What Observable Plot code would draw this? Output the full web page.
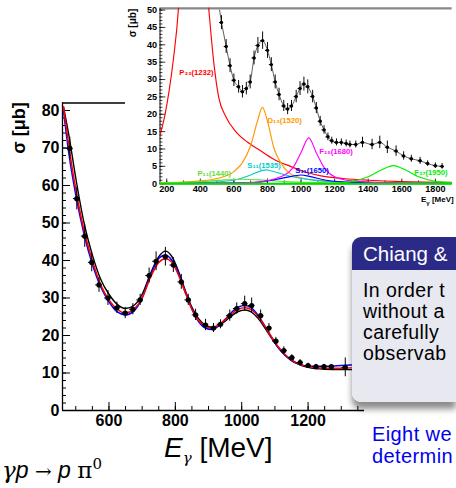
<!DOCTYPE html>
<html><head><meta charset="utf-8">
<script src="https://cdn.jsdelivr.net/npm/d3@7"></script>
<script src="https://cdn.jsdelivr.net/npm/@observablehq/plot@0.6"></script>
<style>
html,body{margin:0;padding:0;background:#fff;}
body{width:456px;height:488px;overflow:hidden;position:relative;font-family:"Liberation Sans",Arial,sans-serif;}
.abs{position:absolute;white-space:nowrap;}
#main,#inset{position:absolute;top:0;}
#main{left:0}
#inset{left:125px}
.rot{position:absolute;white-space:nowrap;transform:translate(-50%,-50%) rotate(-90deg);font-weight:bold;}
#box{position:absolute;left:352px;top:237px;width:104px;border-radius:9px 0 0 9px;overflow:hidden;box-shadow:0 7px 6px rgba(0,0,0,0.45);}
#boxhead{background:#2b2b87;color:#fff;height:33px;font-size:20.5px;line-height:33px;padding-left:11px;white-space:nowrap;}
#boxbody{background:#e8e8f1;color:#000;height:121px;font-size:19.5px;letter-spacing:0.4px;line-height:21px;padding:10px 0 1px 11px;white-space:nowrap;}
#blue{position:absolute;left:372px;top:423px;color:#0000ee;font-size:20px;letter-spacing:0.4px;line-height:22px;white-space:nowrap;}
</style></head><body>
<div id="main"></div>
<div id="box"><div id="boxhead">Chiang &amp;</div><div id="boxbody">In order t<br>without a<br>carefully<br>observab</div></div>
<div id="blue">Eight we<br>determin</div>
<div class="rot" style="left:19px;top:128px;font-size:18px;">σ [μb]</div>
<div class="abs" style="left:164px;top:432px;font-size:28px;"><i>E</i><i style="font-size:15px;font-family:'DejaVu Serif',serif;position:relative;top:6px;">γ</i> [MeV]</div>
<div class="abs" style="left:2px;top:455px;font-size:23px;"><i style="font-family:'DejaVu Serif',serif;">γ</i><i>p</i> <span style="font-family:'DejaVu Serif',serif;font-size:20px;">→</span> <i>p</i> <span style="font-family:'DejaVu Serif',serif;">π</span><sup style="font-size:15px;font-family:'DejaVu Serif',serif;">0</sup></div>
<div id="inset"></div>
<div class="rot" style="left:132px;top:23px;font-size:10px;">σ [μb]</div>
<div class="abs" style="left:421px;top:195px;font-size:8px;font-weight:bold;">E<sub style="font-size:6px">γ</sub> [MeV]</div>
<script>
// ---------- main chart data ----------
const mainE = [482,503,527,548,570,597,624,649,672,694,721,742,770,794,818,839,861,891,915,936,964,985,1009,1030,1057,1082,1103,1127,1151,1176,1200,1224,1248,1270,1312];
const mainSigma = [69.9,56.5,46.5,39.5,33.5,30,27.4,26,27,29.5,36,39.8,41,38.8,34.3,29.5,25.5,22.8,22,23,25.3,27.2,28.5,28,25.3,22,18.5,16,14.1,12.8,12,11.7,11.7,11.7,11.5];
const mainErr = [3,3,3,2.5,2,2,1.5,1.5,1.5,1.5,2,2.5,2.5,2,2,1.5,1.5,1.5,1.2,1.2,1.5,1.5,2,2,1.5,1.2,1,1,0.8,0.8,0.6,0.6,0.6,0.6,2.5];
const binHalfWidth = 10;
const curveE = [463,480,500,525,550,575,600,625,650,675,700,725,750,770,790,810,830,850,870,890,910,930,950,970,990,1010,1030,1050,1070,1090,1110,1130,1150,1175,1200,1250,1300,1370];
const curveBlack = [81,73,62,50,41.5,35,31,28.3,27.2,28,31,36.5,41,42.5,41,37,32,27.5,24.5,22.8,22.2,22.6,23.8,25.3,26.4,26.8,26.2,24.5,22,19.3,16.8,14.8,13.3,12.2,11.5,11,10.9,10.9];
const curveRed = [81,70,59,48,40,33.5,29.5,27,26,27,30,35.5,39.5,40.5,39.5,36,31.5,27,24,22.5,22,22.8,24.2,25.8,27,27.4,26.8,25,22.4,19.6,17,15,13.5,12.3,11.7,11.3,11.3,11.5];
const curveBlue = [80,68,57.5,47,39,33,29,26.3,25.5,26.5,30,36,40.5,41.5,40,36.5,31.5,27,23.7,22,21.6,22.5,24.3,26.2,27.6,28,27.3,25.3,22.5,19.5,16.8,14.8,13.4,12.3,11.8,11.8,12,12.4];
const mainYMajor = [0,10,20,30,40,50,60,70,80];
const mainXMajor = [600,800,1000,1200];

// ---------- inset data ----------
const insetE = [526,554,577,600,628,651,674,697,720,743,771,800,823,846,869,897,920,943,971,994,1017,1040,1069,1091,1114,1137,1160,1183,1211,1240,1269,1291,1326,1366,1423,1469,1514,1566,1611,1657,1709,1754,1800,1840];
const insetSigma = [46.4,39.5,34,29.8,27.9,26.5,27.4,29.3,36.2,39.8,41.2,38.4,34.3,29.3,25.7,22.4,21.5,22.4,25.1,27.4,28.7,27.9,25.1,21.8,18,15.5,13.5,12.4,11.9,11.9,11.6,11.3,11.3,11.9,11.3,11.9,10.5,9.4,8,7.2,6.6,5.8,5.2,5];
const insetErr = [2,2,2,1.8,1.8,1.8,1.8,2,2,2.3,2.5,2.3,2,2,1.8,1.6,1.6,1.6,1.8,2,2,2,1.8,1.6,1.4,1.2,1.1,1,1,1,1,1,1,1.5,1.5,1.8,1.8,1.5,1.2,1,1,0.8,0.8,0.8];
const insetFitE = [515,526];
const insetFitS = [50,46.4];
const p33E = [160,190,215,240,269,300,340,400,430,451,480,509,550,611,680,743,840,937,1030,1126,1250,1400,1600,1900];
const p33S = [14,20,27,36,50,80,100,80,62,50,35,25,19.5,15,12,10,7,5,3.3,2.2,1.5,1,0.6,0.4];
const d13E = [160,300,400,500,600,650,700,740,770,800,840,880,920,1000,1100,1300,1900];
const d13S = [0.3,0.5,0.8,1.5,3.5,6,11,18,22,18,10,6,3.5,1.7,0.9,0.4,0.2];
const s1535E = [160,400,600,700,790,850,950,1050,1200,1500,1900];
const s1535S = [0,0.3,1,2.5,4,3.3,2,1.2,0.6,0.2,0.1];
const p11E = [160,400,550,650,750,900,1100,1400,1900];
const p11S = [0.1,0.6,1.1,1.3,1.1,0.6,0.3,0.15,0.1];
const s1650E = [160,700,850,950,1000,1050,1150,1300,1600,1900];
const s1650S = [0,0.3,1.2,2.2,2.5,2.1,1,0.4,0.15,0.1];
const f15E = [160,700,850,950,1000,1046,1090,1140,1200,1300,1500,1900];
const f15S = [0,0.3,1.5,4.5,9,13.2,9,4.5,2,0.8,0.3,0.1];
const f37E = [160,1200,1300,1400,1480,1550,1620,1700,1800,1900];
const f37S = [0,0.1,0.6,2,4,5.2,4,2,0.7,0.3];
const resNames = ["P₃₃(1232)","D₁₃(1520)","S₁₁(1535)","P₁₁(1440)","S₁₁(1650)","F₁₅(1680)","F₃₇(1950)"];
const resColors = ["#ff0000","#ff9900","#00cccc","#66dd33","#0000ff","#ff00ff","#00ee00"];
const resLabelE = [275,800,680,383,966,1109,1674];
const resLabelSigma = [32,18.2,5.2,2.8,3.9,9.4,3.3];
const insetYMajor = [0,5,10,15,20,25,30,35,40,45,50];
const insetXMajor = [200,400,600,800,1000,1200,1400,1600,1800];

// ---------- main chart ----------
const W = 456, H = 488, mL = 62, mR = 92, mT = 102.5, mB = 78;
const fw = W - mL - mR, fh = H - mT - mB;
const mainRows = mainE.map((e, i) => ({e, s: mainSigma[i], err: mainErr[i]}));
const toRows = (xs, ys) => xs.map((e, i) => ({e, s: ys[i]}));
const mainYMinor = d3.range(0, 82, 2);
const mainXMinor = d3.range(500, 1370, 50);
const plain = d => String(d);
const mainPlot = Plot.plot({
  width: W, height: H, marginLeft: mL, marginRight: mR, marginTop: mT, marginBottom: mB,
  x: {domain: [460, 1370]}, y: {domain: [0, 82]},
  style: {background: "transparent", fontFamily: "Liberation Sans, Arial, sans-serif", overflow: "visible"},
  marks: [
    Plot.ruleY([82], {stroke: "#000", strokeWidth: 1.3}),
    Plot.ruleY([0], {stroke: "#000", strokeWidth: 1.3}),
    Plot.ruleX([460], {stroke: "#000", strokeWidth: 1.3}),
    Plot.tickY(mainYMinor, {y: d => d, insetRight: fw - 4, stroke: "#000"}),
    Plot.tickY(mainYMajor, {y: d => d, insetRight: fw - 8, stroke: "#000"}),
    Plot.tickX(mainXMinor, {x: d => d, insetTop: fh - 4, stroke: "#000"}),
    Plot.tickX(mainXMajor, {x: d => d, insetTop: fh - 8, stroke: "#000"}),
    Plot.axisY(mainYMajor, {tickSize: 0, tickPadding: 3, fontSize: 16, fontWeight: "bold", label: null, tickFormat: plain}),
    Plot.axisX(mainXMajor, {tickSize: 0, tickPadding: 4, fontSize: 16, fontWeight: "bold", label: null, tickFormat: plain}),
    Plot.line(toRows(curveE, curveBlack), {x: "e", y: "s", stroke: "#000", strokeWidth: 1.4, curve: "monotone-x"}),
    Plot.line(toRows(curveE, curveBlue), {x: "e", y: "s", stroke: "#0000ff", strokeWidth: 1.5, curve: "monotone-x"}),
    Plot.line(toRows(curveE, curveRed), {x: "e", y: "s", stroke: "#ff0000", strokeWidth: 1.5, curve: "monotone-x"}),
    Plot.ruleX(mainRows, {x: "e", y1: d => d.s - d.err, y2: d => d.s + d.err, stroke: "#000", strokeWidth: 1}),
    Plot.ruleY(mainRows, {y: "s", x1: d => d.e - binHalfWidth, x2: d => d.e + binHalfWidth, stroke: "#000", strokeWidth: 1}),
    Plot.dot(mainRows, {x: "e", y: "s", r: 2.6, fill: "#000"})
  ]
});
document.getElementById("main").appendChild(mainPlot);

// ---------- inset chart ----------
const iW = 345, iH = 207, iL = 36, iR = 4.5, iT = 8.2, iB = 16;
const ifw = iW - iL - iR, ifh = iH - iT - iB;
const insetRows = insetE.map((e, i) => ({e, s: insetSigma[i], err: insetErr[i]}));
const insetYMinor = d3.range(0, 51, 1);
const insetXMinor = d3.range(200, 1900, 100);
const resCurves = [[p33E, p33S], [d13E, d13S], [s1535E, s1535S], [p11E, p11S], [s1650E, s1650S], [f15E, f15S], [f37E, f37S]];
const labelRows = resNames.map((n, i) => ({n, e: resLabelE[i], s: resLabelSigma[i], c: resColors[i]}));
const insetPlot = Plot.plot({
  width: iW, height: iH, marginLeft: iL, marginRight: iR, marginTop: iT, marginBottom: iB,
  x: {domain: [160, 1900]}, y: {domain: [0, 50.5]},
  style: {background: "white", fontFamily: "Liberation Sans, Arial, sans-serif", overflow: "visible"},
  marks: [
    Plot.ruleY([50.5], {stroke: "#888", strokeWidth: 2.2}),
    Plot.ruleX([160], {stroke: "#000", strokeWidth: 1}),
    Plot.ruleY([0], {stroke: "#000", strokeWidth: 1}),
    Plot.tickY(insetYMinor, {y: d => d, insetRight: ifw - 3, stroke: "#000", strokeWidth: 0.8}),
    Plot.tickY(insetYMajor, {y: d => d, insetRight: ifw - 6, stroke: "#000", strokeWidth: 0.8}),
    Plot.tickX(insetXMinor, {x: d => d, insetTop: ifh - 3, stroke: "#000", strokeWidth: 0.8}),
    Plot.tickX(insetXMajor, {x: d => d, insetTop: ifh - 5, stroke: "#000", strokeWidth: 0.8}),
    Plot.axisY(insetYMajor, {tickSize: 0, tickPadding: 3, fontSize: 9.5, fontWeight: "bold", label: null, tickFormat: plain}),
    Plot.axisX(insetXMajor, {tickSize: 0, tickPadding: 1.5, fontSize: 9.5, fontWeight: "bold", label: null, tickFormat: plain}),
    ...resCurves.map(([xs, ys], i) => Plot.line(toRows(xs, ys), {x: "e", y: "s", stroke: resColors[i], strokeWidth: 1.2, curve: "monotone-x", clip: true})),
    Plot.ruleY([0], {stroke: "#00dd00", strokeWidth: 2.2}),
    Plot.line(toRows(insetFitE, insetFitS), {x: "e", y: "s", stroke: "#555", strokeWidth: 1, clip: true}),
    Plot.line(insetRows, {x: "e", y: "s", stroke: "#555", strokeWidth: 1, curve: "monotone-x", clip: true}),
    Plot.ruleX(insetRows, {x: "e", y1: d => d.s - d.err, y2: d => d.s + d.err, stroke: "#000", strokeWidth: 1}),
    Plot.ruleY(insetRows, {y: "s", x1: d => d.e - 12, x2: d => d.e + 12, stroke: "#000", strokeWidth: 1}),
    Plot.dot(insetRows, {x: "e", y: "s", r: 1.8, fill: "#000"}),
    Plot.text(labelRows, {x: "e", y: "s", text: "n", fill: "c", textAnchor: "start", fontSize: 8, fontWeight: "bold"})
  ]
});
document.getElementById("inset").appendChild(insetPlot);
</script>
</body></html>
